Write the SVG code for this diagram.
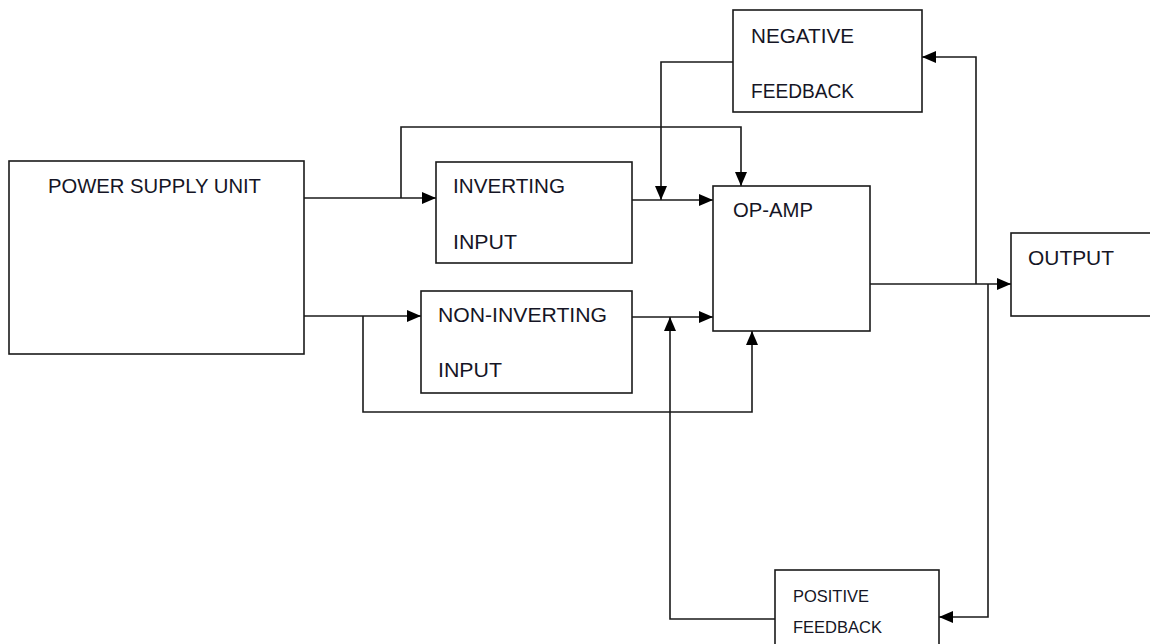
<svg xmlns="http://www.w3.org/2000/svg" width="1150" height="644" viewBox="0 0 1150 644">
  <style>
    .box { fill: #ffffff; stroke: #1a1a1a; stroke-width: 1.6; }
    .lbl { font-family: "Liberation Sans", "Open Sans", sans-serif; font-size: 20px; fill: #151525; }
    .sm { font-size: 17px; }
    .wire { fill: none; stroke: #1a1a1a; stroke-width: 1.6; }
    .arr { marker-end: url(#ah); }
  </style>
  <defs>
    <marker id="ah" markerUnits="userSpaceOnUse" markerWidth="14" markerHeight="12" refX="14" refY="6" orient="auto">
      <path d="M0,0 L14,6 L0,12 z" fill="#000000"/>
    </marker>
  </defs>
  <rect width="1150" height="644" fill="#ffffff"/>

  <g id="connectors">
    <path class="wire arr" d="M304,198 L436,198"/>
    <path class="wire arr" d="M401,198 L401,127 L741,127 L741,186"/>
    <path class="wire arr" d="M632,200 L713,200"/>
    <path class="wire arr" d="M733,62 L661,62 L661,200"/>
    <path class="wire arr" d="M304,316 L421,316"/>
    <path class="wire arr" d="M363,316 L363,412 L752,412 L752,331"/>
    <path class="wire arr" d="M632,317 L713,317"/>
    <path class="wire arr" d="M775,619 L670,619 L670,317"/>
    <path class="wire arr" d="M870,284 L1011,284"/>
    <path class="wire arr" d="M976,284 L976,57 L922,57"/>
    <path class="wire arr" d="M988,284 L988,617 L939,617"/>
  </g>

  <g id="power-supply">
    <rect class="box" x="9" y="161" width="295" height="193"/>
    <text class="lbl" x="48" y="193" textLength="213" lengthAdjust="spacingAndGlyphs">POWER SUPPLY UNIT</text>
  </g>
  <g id="inverting-input">
    <rect class="box" x="436" y="162" width="196" height="101"/>
    <text class="lbl" x="453" y="193" textLength="112" lengthAdjust="spacingAndGlyphs">INVERTING</text>
    <text class="lbl" x="453" y="249" textLength="64" lengthAdjust="spacingAndGlyphs">INPUT</text>
  </g>
  <g id="non-inverting-input">
    <rect class="box" x="421" y="291" width="211" height="102"/>
    <text class="lbl" x="438" y="322" textLength="169" lengthAdjust="spacingAndGlyphs">NON-INVERTING</text>
    <text class="lbl" x="438" y="377" textLength="64" lengthAdjust="spacingAndGlyphs">INPUT</text>
  </g>
  <g id="op-amp">
    <rect class="box" x="713" y="186" width="157" height="145"/>
    <text class="lbl" x="733" y="217" textLength="80" lengthAdjust="spacingAndGlyphs">OP-AMP</text>
  </g>
  <g id="negative-feedback">
    <rect class="box" x="733" y="10" width="189" height="102"/>
    <text class="lbl" x="751" y="43" textLength="103" lengthAdjust="spacingAndGlyphs">NEGATIVE</text>
    <text class="lbl" x="751" y="98" textLength="103" lengthAdjust="spacingAndGlyphs">FEEDBACK</text>
  </g>
  <g id="output">
    <rect class="box" x="1011" y="233" width="145" height="83"/>
    <text class="lbl" x="1028" y="265" textLength="86" lengthAdjust="spacingAndGlyphs">OUTPUT</text>
  </g>
  <g id="positive-feedback">
    <rect class="box" x="775" y="570" width="164" height="80"/>
    <text class="lbl sm" x="793" y="602" textLength="76" lengthAdjust="spacingAndGlyphs">POSITIVE</text>
    <text class="lbl sm" x="793" y="633" textLength="89" lengthAdjust="spacingAndGlyphs">FEEDBACK</text>
  </g>
</svg>
